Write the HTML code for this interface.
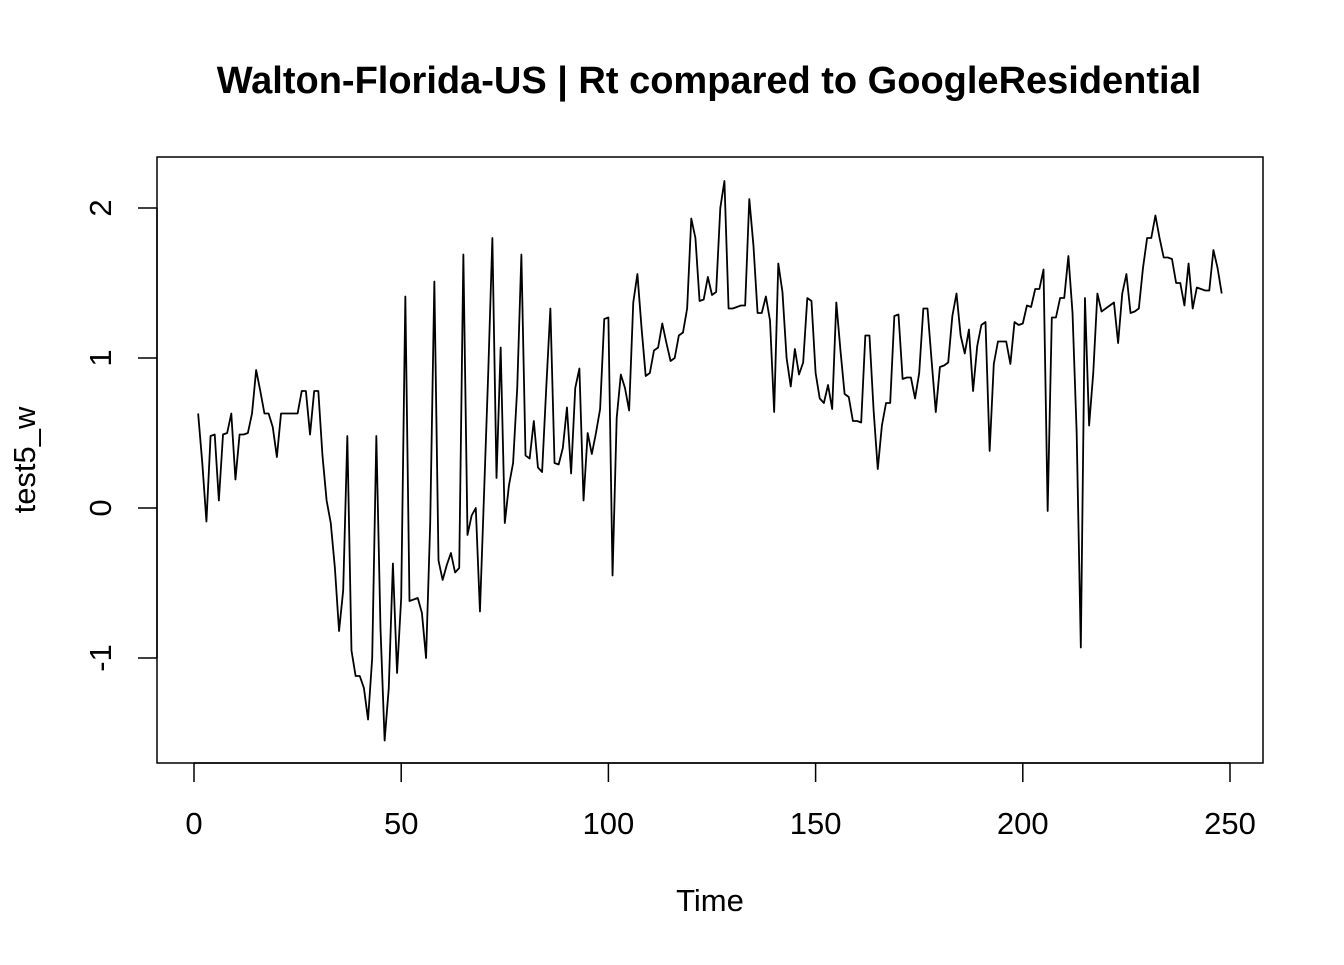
<!DOCTYPE html>
<html><head><meta charset="utf-8"><style>
body{margin:0;background:#fff}
svg text{font-family:"Liberation Sans",Arial,sans-serif;fill:#000}
</style></head><body>
<svg id="chart" width="1344" height="960" xmlns="http://www.w3.org/2000/svg">
<rect width="1344" height="960" fill="#fff"/>
<text x="709" y="93" text-anchor="middle" font-size="38" font-weight="bold">Walton-Florida-US | Rt compared to GoogleResidential</text>
<rect x="157" y="157" width="1106" height="606" fill="none" stroke="#000" stroke-width="1.5"/>
<g id="xaxis"></g>
<g id="yaxis"></g>
<text x="710" y="911" text-anchor="middle" font-size="31">Time</text>
<text transform="translate(35,460) rotate(-90)" text-anchor="middle" font-size="31">test5_w</text>
<path id="series" fill="none" stroke="#000" stroke-width="1.8" stroke-linejoin="round"/>
</svg>
<script>
const values = [0.63,0.3,-0.09,0.48,0.49,0.05,0.49,0.5,0.63,0.19,0.49,0.49,0.5,0.63,0.92,0.78,0.63,0.63,0.54,0.34,
0.63,0.63,0.63,0.63,0.63,0.78,0.78,0.49,0.78,0.78,0.35,0.05,-0.1,-0.4,-0.82,-0.55,0.48,-0.95,-1.12,-1.12,
-1.2,-1.41,-1.0,0.48,-0.8,-1.55,-1.2,-0.37,-1.1,-0.6,1.41,-0.62,-0.61,-0.6,-0.7,-1.0,-0.1,1.51,-0.35,-0.48,
-0.38,-0.3,-0.43,-0.4,1.69,-0.18,-0.05,0.0,-0.69,0.1,0.9,1.8,0.2,1.07,-0.1,0.15,0.3,0.8,1.69,0.35,
0.33,0.58,0.27,0.24,0.8,1.33,0.3,0.29,0.4,0.67,0.23,0.8,0.93,0.05,0.5,0.36,0.5,0.66,1.26,1.27,
-0.45,0.6,0.89,0.8,0.65,1.37,1.56,1.2,0.88,0.9,1.05,1.07,1.23,1.1,0.98,1.0,1.15,1.17,1.33,1.93,
1.8,1.38,1.39,1.54,1.42,1.44,2.0,2.18,1.33,1.33,1.34,1.35,1.35,2.06,1.75,1.3,1.3,1.41,1.25,0.64,
1.63,1.44,1.0,0.81,1.06,0.89,0.97,1.4,1.38,0.9,0.73,0.7,0.82,0.66,1.37,1.05,0.76,0.74,0.58,0.58,
0.57,1.15,1.15,0.65,0.26,0.55,0.7,0.7,1.28,1.29,0.86,0.87,0.87,0.73,0.9,1.33,1.33,0.98,0.64,0.94,
0.95,0.97,1.28,1.43,1.15,1.03,1.19,0.78,1.08,1.22,1.24,0.38,0.96,1.11,1.11,1.11,0.96,1.24,1.22,1.23,
1.35,1.34,1.46,1.46,1.59,-0.02,1.27,1.27,1.4,1.4,1.68,1.3,0.5,-0.93,1.4,0.55,0.9,1.43,1.31,1.33,
1.35,1.37,1.1,1.43,1.56,1.3,1.31,1.33,1.6,1.8,1.8,1.95,1.8,1.67,1.67,1.66,1.5,1.5,1.35,1.63,
1.33,1.47,1.46,1.45,1.45,1.72,1.6,1.43];
const xTicks = [0,50,100,150,200,250];
const yTicks = [-1,0,1,2];
const yTickLabels = ["-1","0","1","2"];
const xs = t => 194 + (t)*(1230-194)/250;
const ys = v => 508 - v*150;
const NS="http://www.w3.org/2000/svg";
let d="";
values.forEach((v,i)=>{d+=(i?"L":"M")+xs(i+1).toFixed(2)+","+ys(v).toFixed(2);});
document.getElementById("series").setAttribute("d",d);
const xa=document.getElementById("xaxis");
let l=document.createElementNS(NS,"line");
l.setAttribute("x1",xs(xTicks[0]));l.setAttribute("x2",xs(xTicks[xTicks.length-1]));l.setAttribute("y1",763);l.setAttribute("y2",763);l.setAttribute("stroke","#000");l.setAttribute("stroke-width","1.5");


xa.appendChild(l);
xTicks.forEach(t=>{
 const tk=document.createElementNS(NS,"line");
 tk.setAttribute("x1",xs(t));tk.setAttribute("x2",xs(t));tk.setAttribute("y1",763);tk.setAttribute("y2",782);tk.setAttribute("stroke","#000");tk.setAttribute("stroke-width","1.5");
 
 
 xa.appendChild(tk);
 const tx=document.createElementNS(NS,"text");
 tx.setAttribute("x",xs(t));tx.setAttribute("y",834);tx.setAttribute("text-anchor","middle");tx.setAttribute("font-size","31");
 tx.textContent=String(t);
 
 
 xa.appendChild(tx);
});
const ya=document.getElementById("yaxis");
l=document.createElementNS(NS,"line");
l.setAttribute("x1",157);l.setAttribute("x2",157);l.setAttribute("y1",ys(yTicks[0]));l.setAttribute("y2",ys(yTicks[yTicks.length-1]));l.setAttribute("stroke","#000");l.setAttribute("stroke-width","1.5");


ya.appendChild(l);
yTicks.forEach((v,i)=>{
 const tk=document.createElementNS(NS,"line");
 tk.setAttribute("x1",138);tk.setAttribute("x2",157);tk.setAttribute("y1",ys(v));tk.setAttribute("y2",ys(v));tk.setAttribute("stroke","#000");tk.setAttribute("stroke-width","1.5");
 
 
 ya.appendChild(tk);
 const tx=document.createElementNS(NS,"text");
 tx.setAttribute("transform","translate(111,"+ys(v)+") rotate(-90)");tx.setAttribute("text-anchor","middle");tx.setAttribute("font-size","31");
 tx.textContent=yTickLabels[i];
 
 
 ya.appendChild(tx);
});
</script>
</body></html>
